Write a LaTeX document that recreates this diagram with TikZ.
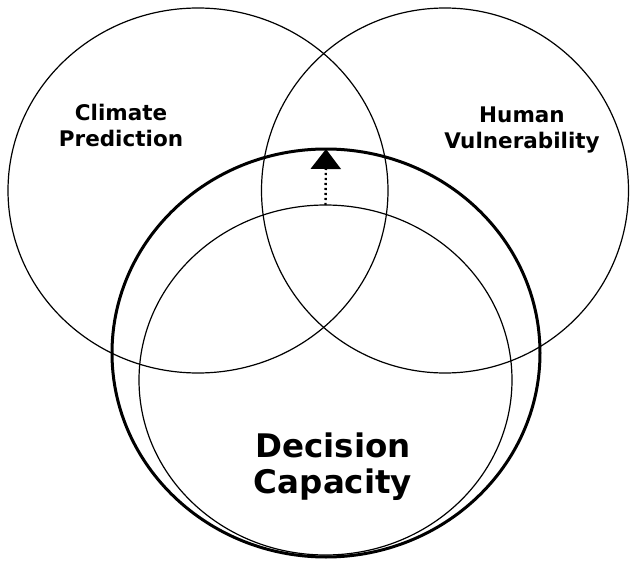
\documentclass[tikz,border=0pt]{standalone}
\usepackage{fontspec}
\setsansfont{DejaVu Sans}
\usetikzlibrary{shapes.geometric,arrows.meta}
\begin{document}
\begin{tikzpicture}[x=1pt,y=-1pt,
  ring/.style={draw=black,ellipse,inner sep=0pt,outer sep=0pt,line width=1.2pt},
  boldring/.style={ring,line width=3pt},
  smalllabel/.style={font=\sffamily\bfseries\fontsize{21.5}{26}\selectfont,align=center,inner sep=0pt},
  biglabel/.style={font=\sffamily\bfseries\fontsize{32.5}{36}\selectfont,align=center,inner sep=0pt},
  link/.style={line width=2.4pt,dash pattern=on 2.2pt off 2.8pt,-{Triangle[width=30pt,length=20pt]}}]
\useasboundingbox (0,0) rectangle (630,562);
% the four sets
\node[ring,minimum width=380pt,minimum height=365pt] (climate) at (198,190.5) {};
\node[ring,minimum width=367pt,minimum height=365pt] (human) at (445,190.5) {};
\node[boldring,minimum width=428pt,minimum height=408pt] (decision) at (326,353) {};
\node[ring,minimum width=373pt,minimum height=350pt] (core) at (325.5,380) {};
% labels (base anchor sits on the last line)
\node[smalllabel,anchor=base] (climatetext) at (121,146.7) {Climate\\Prediction};
\node[smalllabel,anchor=base] (humantext) at (522,148.3) {Human\\Vulnerability};
\node[biglabel,anchor=base] (decisiontext) at (333,493) {Decision\\Capacity};
% growth from the inner set to the outer one
\draw[link] (core.north) -- (decision.north);
\end{tikzpicture}
\end{document}
